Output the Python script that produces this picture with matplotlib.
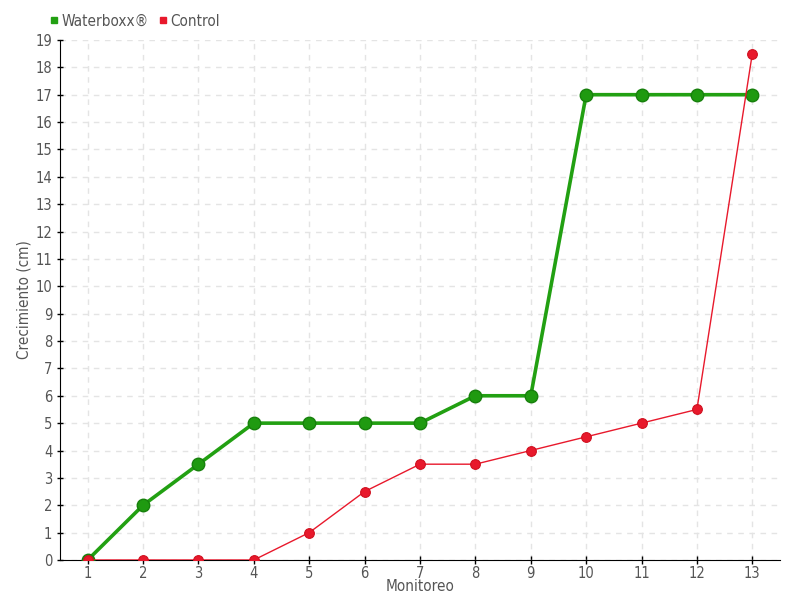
import matplotlib
matplotlib.use("Agg")
import matplotlib.pyplot as plt
from matplotlib.lines import Line2D

monitoreo = list(range(1, 14))
waterboxx = [0, 2, 3.5, 5, 5, 5, 5, 6, 6, 17, 17, 17, 17]
control = [0, 0, 0, 0, 1, 2.5, 3.5, 3.5, 4, 4.5, 5, 5.5, 18.5]
y_ticks = list(range(0, 20))

plt.rcParams['font.family'] = ['DejaVu Sans']
plt.rcParams['font.stretch'] = 'condensed'
txt = '#555555'

fig = plt.figure(figsize=(8, 6), dpi=100)
ax = fig.add_axes([0.075, 0.0667, 0.9, 0.8667])

green = '#22a012'
red = '#e8192c'
ax.plot(monitoreo, waterboxx, color=green, lw=2.6, marker='o', ms=9,
        markerfacecolor='#1f9a10', markeredgecolor='#17800c', markeredgewidth=1, zorder=3)
ax.plot(monitoreo, control, color=red, lw=1, marker='o', ms=7,
        markerfacecolor=red, markeredgecolor='#d0101f', markeredgewidth=0.8, zorder=4)

ax.set_xlim(0.5, 13.5)
ax.set_ylim(0, 19)
ax.set_xticks(monitoreo)
ax.set_yticks(y_ticks)
ax.tick_params(axis='both', colors='black', labelcolor=txt, labelsize=10.5, width=1)
ax.tick_params(axis='x', direction='inout', length=6, pad=1)
ax.tick_params(axis='y', direction='inout', length=5, pad=3)
for s in ['top', 'right']:
    ax.spines[s].set_visible(False)
ax.grid(True, color='#e4e4e4', linestyle=(0, (4, 4)), linewidth=1)
ax.set_axisbelow(True)
ax.set_xlabel('Monitoreo', color=txt, fontsize=11, labelpad=-1)
ax.set_ylabel('Crecimiento (cm)', color=txt, fontsize=11)
ax.yaxis.set_label_coords(-0.04, 0.5)

handles = [Line2D([], [], color=green, marker='s', ls='none', ms=5),
           Line2D([], [], color=red, marker='s', ls='none', ms=5)]
fig.legend(handles, ['Waterboxx®', 'Control'], loc='upper left',
           bbox_to_anchor=(0.043, 1.0), ncol=2, frameon=False, fontsize=11,
           handletextpad=0.1, columnspacing=0.5, labelcolor=txt, handlelength=0.8)

fig.savefig('out.png', dpi=100)
